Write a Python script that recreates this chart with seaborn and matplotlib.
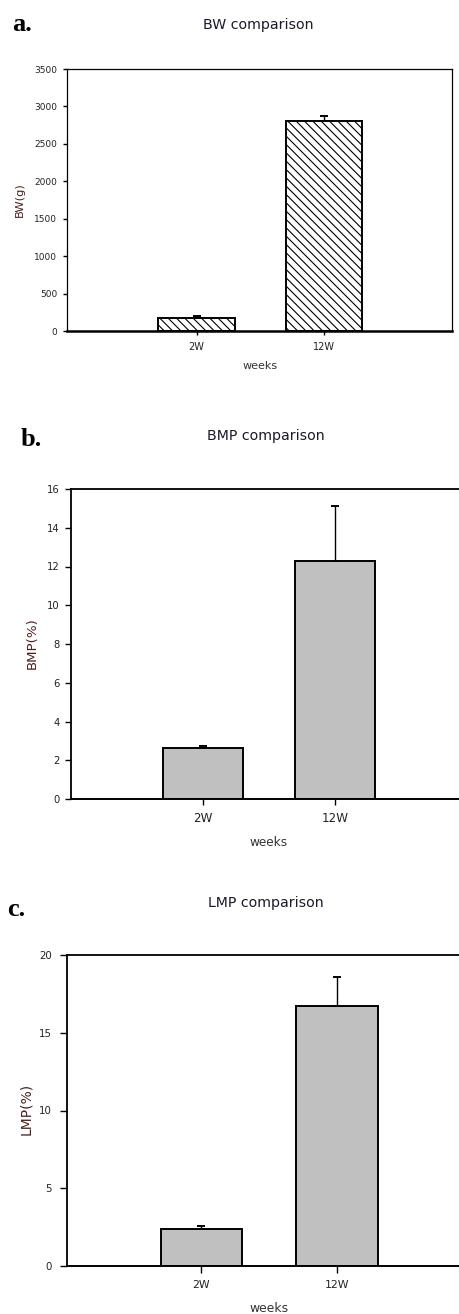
import matplotlib
matplotlib.use("Agg")
import matplotlib.pyplot as plt
import seaborn as sns
import numpy as np
import pandas as pd

# ---------------- data ----------------
weeks = ["2W", "12W"]
bw_mean = [180, 2800]
bw_err = [20, 70]
bmp_mean = [2.63, 12.3]
bmp_err = [0.08, 2.8]
lmp_mean = [2.4, 16.7]
lmp_err = [0.17, 1.9]

titles = ["BW comparison", "BMP comparison", "LMP comparison"]
ylabels = ["BW(g)", "BMP(%)", "LMP(%)"]
panel_tags = ["a.", "b.", "c."]

sns.set_theme(style="white")
plt.rcParams["font.family"] = ["DejaVu Sans"]
plt.rcParams["hatch.linewidth"] = 0.8

W, H = 459, 1314
fig = plt.figure(figsize=(W / 100, H / 100), dpi=100)


def px(x, y):
    return x / W, 1 - y / H


def add_axes(left, top, right, bottom):
    return fig.add_axes([left / W, 1 - bottom / H, (right - left) / W, (bottom - top) / H])


panels = [
    dict(means=bw_mean, errs=bw_err, box=(67, 69, 452, 331), xlim=(-1.02, 2.01),
         ylim=(0, 3500), yticks=np.arange(0, 3501, 500), hatch=True,
         tick_fs=6.5, xtick_fs=7.0, ylab_fs=8.2, xlab_fs=8.0, ylab_pos=(20, 200),
         xlab_pos=(260, 366), title_pos=(258, 25), tag_pos=(12, 31),
         spine_lw=0.9, bottom_lw=1.8, ticklen=3, ypad=4, xpad=5),
    dict(means=bmp_mean, errs=bmp_err, box=(71, 489, 471, 799), xlim=(-1.0, 2.03),
         ylim=(0, 16), yticks=np.arange(0, 17, 2), hatch=False,
         tick_fs=7.2, xtick_fs=8.6, ylab_fs=9.6, xlab_fs=8.7, ylab_pos=(32, 643),
         xlab_pos=(269, 842), title_pos=(266, 436), tag_pos=(21, 446),
         spine_lw=1.3, bottom_lw=1.4, ticklen=4, ypad=4, xpad=5),
    dict(means=lmp_mean, errs=lmp_err, box=(67, 955, 477, 1266), xlim=(-0.99, 2.03),
         ylim=(0, 20), yticks=np.arange(0, 21, 5), hatch=False,
         tick_fs=7.4, xtick_fs=7.8, ylab_fs=10.0, xlab_fs=8.9, ylab_pos=(26, 1109),
         xlab_pos=(269, 1308), title_pos=(266, 903), tag_pos=(7, 916),
         spine_lw=1.3, bottom_lw=1.4, ticklen=5, ypad=6, xpad=5),
]

for i, p in enumerate(panels):
    ax = add_axes(*p["box"])
    df = pd.DataFrame({"week": weeks, "value": p["means"]})
    sns.barplot(data=df, x="week", y="value", ax=ax, width=0.6,
                color="white" if p["hatch"] else "#c0c0c0",
                edgecolor="black", linewidth=1.4, errorbar=None, saturation=1)
    for bar in ax.patches:
        bar.set_facecolor("white" if p["hatch"] else "#c0c0c0")
        if p["hatch"]:
            bar.set_hatch("\\\\\\\\")
    ax.errorbar(x=np.arange(len(weeks)), y=p["means"],
                yerr=[np.zeros(len(weeks)), p["errs"]], fmt="none",
                ecolor="black", elinewidth=1.0, capsize=3, capthick=1.4, zorder=1)
    ax.set_xlim(*p["xlim"])
    ax.set_ylim(*p["ylim"])
    ax.set_yticks(p["yticks"])
    ax.set_yticklabels([str(v) for v in p["yticks"]])
    for s in ["left", "top", "right"]:
        ax.spines[s].set_visible(True)
        ax.spines[s].set_color("black")
        ax.spines[s].set_linewidth(p["spine_lw"])
    ax.spines["bottom"].set_color("black")
    ax.spines["bottom"].set_linewidth(p["bottom_lw"])
    ax.tick_params(axis="y", direction="out", length=p["ticklen"], width=1, color="black",
                   labelsize=p["tick_fs"], labelcolor="#222222", pad=p["ypad"], left=True)
    ax.tick_params(axis="x", direction="out", length=p["ticklen"], width=1, color="black",
                   labelsize=p["xtick_fs"], labelcolor="#222222", pad=p["xpad"], bottom=True)
    ax.set_ylabel(ylabels[i], fontsize=p["ylab_fs"], color="#4a2020", va="center", ha="center")
    l, t, r, b = p["box"]
    ax.yaxis.set_label_coords((p["ylab_pos"][0] - l) / (r - l), (b - p["ylab_pos"][1]) / (b - t))
    ax.set_xlabel("weeks", fontsize=p["xlab_fs"], color="#333333", va="center", ha="center")
    ax.xaxis.set_label_coords((p["xlab_pos"][0] - l) / (r - l), (b - p["xlab_pos"][1]) / (b - t))
    ax.grid(False)
    fig.text(*px(*p["title_pos"]), titles[i], ha="center", va="center",
             fontsize=10.2, color="#1a1a2a")
    fig.text(*px(*p["tag_pos"]), panel_tags[i], ha="left", va="baseline",
             fontsize=19, fontweight="bold", family=["Liberation Serif", "DejaVu Serif"],
             color="black")

fig.savefig("out.png", dpi=100, facecolor="white")
